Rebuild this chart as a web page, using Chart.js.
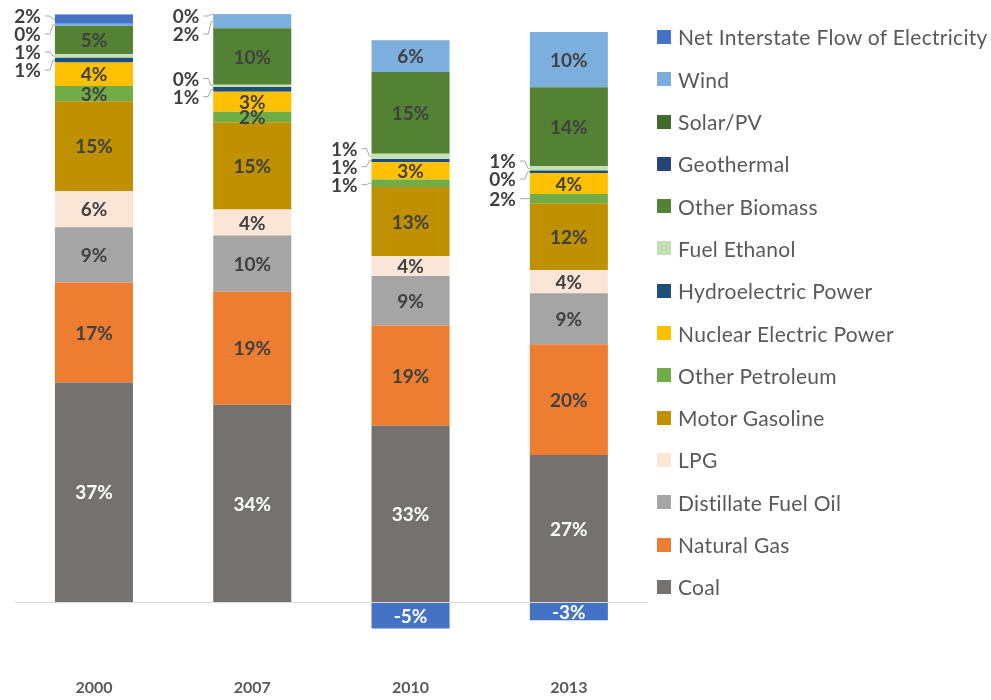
<!DOCTYPE html>
<html>
<head>
<meta charset="utf-8">
<title>Consumo de energia por fuente</title>
<script src="https://cdn.jsdelivr.net/npm/chart.js@4.4.1/dist/chart.umd.min.js"></script>
<style>
    body { margin: 0; background: #ffffff; }
    #wrap { position: relative; width: 991px; height: 700px; }
    #leyenda {
        position: absolute; left: 657px; top: 15.85px;
        margin: 0; padding: 0; list-style: none;
        font-family: Lato, sans-serif; font-size: 21px; letter-spacing: 0.3px; color: #595959;
    }
    #leyenda li { height: 42.3px; display: flex; align-items: center; white-space: nowrap; }
    #leyenda .caja { width: 14px; height: 14px; margin-right: 7px; flex: none; }
</style>
</head>
<body>
<div id="wrap">
    <canvas id="grafico" width="991" height="700"></canvas>
    <ul id="leyenda"></ul>
</div>
<script>
// DATOS - % del consumo total de cada año
var anios = ["2000", "2007", "2010", "2013"];

var coal = [37.4, 33.7, 32.9, 26.7];
var naturalGas = [17.0, 19.3, 18.7, 20.1];
var distillateFuelOil = [9.4, 9.6, 9.2, 9.2];
var lpg = [6.1, 4.4, 3.7, 4.2];
var motorGasoline = [15.3, 14.9, 12.9, 12.1];
var otherPetroleum = [2.6, 1.8, 1.4, 1.7];
var nuclear = [4.0, 3.4, 3.2, 3.8];
var hydroelectric = [0.8, 0.8, 0.6, 0.45];
var fuelEthanol = [0.6, 0.4, 1.0, 0.8];
var otherBiomass = [4.8, 9.6, 15.2, 14.3];
var geothermal = [null, null, null, null];
var solarPV = [null, null, null, null];
var wind = [0.4, 2.3, 5.9, 10.0];
var netInterstate = [1.6, 0.1, -4.85, -3.2];

// Series de abajo hacia arriba en la pila
var series = [
    { nombre: "Coal", valores: coal, color: "#767171", texto: "#ffffff" },
    { nombre: "Natural Gas", valores: naturalGas, color: "#ED7D31", texto: "#404040" },
    { nombre: "Distillate Fuel Oil", valores: distillateFuelOil, color: "#A5A5A5", texto: "#404040" },
    { nombre: "LPG", valores: lpg, color: "#FBE5D6", texto: "#404040" },
    { nombre: "Motor Gasoline", valores: motorGasoline, color: "#BF9000", texto: "#404040" },
    { nombre: "Other Petroleum", valores: otherPetroleum, color: "#70AD47", texto: "#404040" },
    { nombre: "Nuclear Electric Power", valores: nuclear, color: "#FFC000", texto: "#404040" },
    { nombre: "Hydroelectric Power", valores: hydroelectric, color: "#1F4E79", texto: "#404040" },
    { nombre: "Fuel Ethanol", valores: fuelEthanol, color: "#C5E0B4", texto: "#404040" },
    { nombre: "Other Biomass", valores: otherBiomass, color: "#548235", texto: "#404040" },
    { nombre: "Geothermal", valores: geothermal, color: "#264478", texto: "#404040" },
    { nombre: "Solar/PV", valores: solarPV, color: "#43682B", texto: "#404040" },
    { nombre: "Wind", valores: wind, color: "#7CAFDD", texto: "#404040" },
    { nombre: "Net Interstate Flow of Electricity", valores: netInterstate, color: "#4472C4", texto: "#ffffff" }
];

// Etiquetas que van fuera de la barra, con línea guía (índice del año)
var etiquetasFuera = {
    "Net Interstate Flow of Electricity": [0, 1],
    "Wind": [0, 1],
    "Fuel Ethanol": [0, 1, 2, 3],
    "Hydroelectric Power": [0, 1, 2, 3],
    "Other Petroleum": [2, 3]
};

// Columna 100% apilada: cada valor se divide por la suma de valores absolutos del año
var sumaAbs = anios.map(function (a, i) {
    var s = 0;
    series.forEach(function (serie) {
        if (serie.valores[i] !== null) {
            s += Math.abs(serie.valores[i]);
        }
    });
    return s;
});

var datasets = series.map(function (serie) {
    return {
        label: serie.nombre,
        valores: serie.valores,
        colorTexto: serie.texto,
        data: serie.valores.map(function (v, i) {
            return v === null ? null : v / sumaAbs[i] * 100;
        }),
        backgroundColor: serie.color,
        borderWidth: 0,
        categoryPercentage: 1,
        barPercentage: 0.493
    };
});

// Reparte las etiquetas exteriores para que no se pisen (agrupa y centra)
function repartir(items, sep, minY) {
    items.sort(function (a, b) { return a.objetivo - b.objetivo; });
    var grupos = [];
    function colocar(g) {
        var media = 0;
        g.items.forEach(function (it) { media += it.objetivo; });
        media = media / g.items.length;
        g.inicio = Math.max(minY, media - (g.items.length - 1) * sep / 2);
    }
    items.forEach(function (it) {
        grupos.push({ items: [it] });
        while (true) {
            var g = grupos[grupos.length - 1];
            colocar(g);
            var prev = grupos[grupos.length - 2];
            if (prev && g.inicio < prev.inicio + prev.items.length * sep) {
                prev.items = prev.items.concat(g.items);
                grupos.pop();
            } else {
                break;
            }
        }
    });
    grupos.forEach(function (g) {
        g.items.forEach(function (it, k) { it.y = g.inicio + k * sep; });
    });
}

// ETIQUETAS de datos (dentro de la barra o fuera con línea guía)
var etiquetas = {
    id: "etiquetas",
    afterDatasetsDraw: function (chart) {
        "use strict";
        var ctx = chart.ctx;
        var fuera = anios.map(function () { return []; });
        ctx.save();
        ctx.font = "bold 19px Lato";
        ctx.textBaseline = "middle";
        chart.data.datasets.forEach(function (ds, d) {
            var meta = chart.getDatasetMeta(d);
            var listaFuera = etiquetasFuera[ds.label] || [];
            meta.data.forEach(function (bar, i) {
                var v = ds.valores[i];
                if (v === null) {
                    return;
                }
                var p = bar.getProps(["x", "y", "base", "width"], true);
                var texto = Math.round(v) + "%";
                var centro = (p.y + p.base) / 2;
                if (listaFuera.indexOf(i) === -1) {
                    ctx.fillStyle = ds.colorTexto;
                    ctx.textAlign = "center";
                    ctx.fillText(texto, p.x, centro + 1);
                } else {
                    fuera[i].push({ texto: texto, objetivo: centro, izq: p.x - p.width / 2 });
                }
            });
        });
        ctx.strokeStyle = "#A6A6A6";
        ctx.lineWidth = 1;
        fuera.forEach(function (items) {
            repartir(items, 18, 16);
            items.forEach(function (it) {
                var derecha = it.izq - 14;
                ctx.fillStyle = "#404040";
                ctx.textAlign = "right";
                ctx.fillText(it.texto, derecha, it.y + 1);
                ctx.beginPath();
                ctx.moveTo(derecha + 4, it.y);
                ctx.lineTo(it.izq - 5, it.y);
                ctx.lineTo(it.izq - 2, it.objetivo);
                ctx.lineTo(it.izq, it.objetivo);
                ctx.stroke();
            });
        });
        ctx.restore();
    }
};

var config = {
    type: "bar",
    data: { labels: anios, datasets: datasets },
    options: {
        responsive: false,
        animation: false,
        layout: { padding: { top: 14.3, left: 14.8, right: 343, bottom: 0 } },
        plugins: {
            legend: { display: false },
            tooltip: { enabled: false }
        },
        scales: {
            x: {
                stacked: true,
                grid: { display: false, drawTicks: false },
                border: { display: false },
                ticks: {
                    color: "#595959",
                    padding: 2.4,
                    font: { family: "Lato", size: 16, weight: "bold" }
                }
            },
            y: {
                stacked: true,
                min: -12.5,
                max: 100,
                ticks: { display: false, stepSize: 12.5 },
                border: { display: false },
                grid: {
                    drawTicks: false,
                    color: function (c) {
                        return c.tick.value === 0 ? "#D9D9D9" : "rgba(0,0,0,0)";
                    }
                }
            }
        }
    },
    plugins: [etiquetas]
};

var grafico = new Chart(document.getElementById("grafico").getContext("2d"), config);

// LEYENDA en HTML, en orden inverso como en el original
var lista = document.getElementById("leyenda");
datasets.slice().reverse().forEach(function (ds) {
    var li = document.createElement("li");
    var caja = document.createElement("span");
    caja.className = "caja";
    caja.style.backgroundColor = ds.backgroundColor;
    li.appendChild(caja);
    li.appendChild(document.createTextNode(ds.label));
    lista.appendChild(li);
});
</script>
</body>
</html>
